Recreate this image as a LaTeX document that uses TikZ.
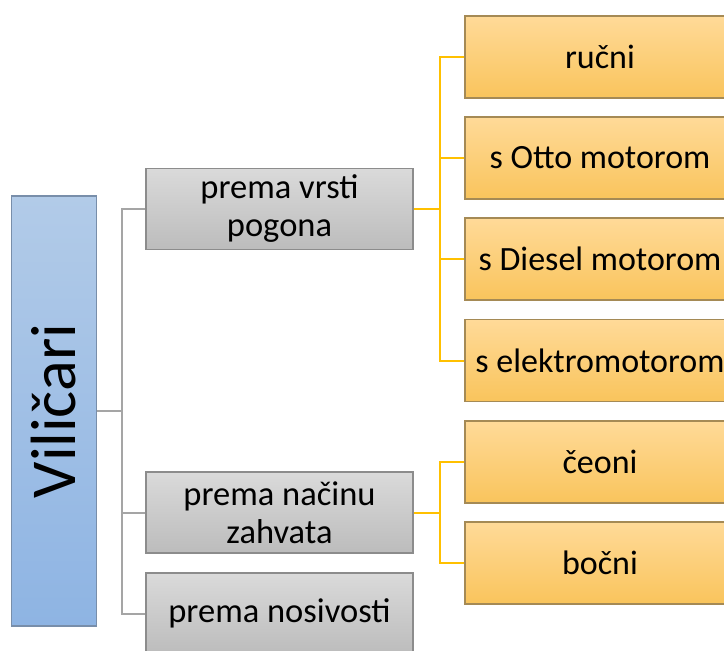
\documentclass[tikz,border=0pt]{standalone}
\usepackage{fontspec}
\setmainfont{Carlito}
\usepackage{tikz}
\usetikzlibrary{positioning}
\definecolor{roottop}{RGB}{178,203,232}
\definecolor{rootbot}{RGB}{142,180,227}
\definecolor{rootedge}{RGB}{120,142,170}
\definecolor{grouptop}{RGB}{218,218,218}
\definecolor{groupbot}{RGB}{188,188,188}
\definecolor{groupedge}{RGB}{140,140,140}
\definecolor{leaftop}{RGB}{255,218,152}
\definecolor{leafbot}{RGB}{249,196,92}
\definecolor{leafedge}{RGB}{165,138,85}
\definecolor{greyline}{RGB}{165,165,165}
\definecolor{goldline}{RGB}{255,192,0}
\tikzset{
	rootbox/.style  = {draw=rootedge, line width=1.5pt, top color=roottop, bottom color=rootbot, minimum width=85pt, minimum height=430pt, inner sep=0pt, font=\fontsize{64}{70}\selectfont},
	groupbox/.style = {draw=groupedge, line width=1.5pt, top color=grouptop, bottom color=groupbot, minimum width=267pt, minimum height=81pt, inner sep=0pt, align=center, font=\fontsize{34.5}{38}\selectfont},
	leafbox/.style  = {draw=leafedge, line width=1.5pt, top color=leaftop, bottom color=leafbot, minimum width=270pt, minimum height=82pt, inner sep=0pt, align=center, font=\fontsize{34}{38}\selectfont},
	greylink/.style = {draw=greyline, line width=2pt},
	goldlink/.style = {draw=goldline, line width=2pt},
}
\begin{document}
\begin{tikzpicture}[x=1pt, y=-1pt]
	\useasboundingbox (0,0) rectangle (724,651);
	\clip (0,0) rectangle (724,651);
	% root
	\node[rootbox] (root) at (54,411) {\rotatebox{90}{Viličari}};
	% second level
	\node[groupbox] (pogona) at (279.5,209) {prema vrsti\\pogona};
	\node[groupbox] (zahvat) at (279.5,512.5) {prema načinu\\zahvata};
	\node[groupbox] (nosiv)  at (279.5,613.5) {prema nosivosti};
	% third level
	\node[leafbox] (rucni)  at (600,57)    {ručni};
	\node[leafbox] (otto)   at (600,158)   {s Otto motorom};
	\node[leafbox] (diesel) at (600,259)   {s Diesel motorom};
	\node[leafbox] (elektr) at (600,360.5) {s elektromotorom};
	\node[leafbox] (ceoni)  at (600,462)   {čeoni};
	\node[leafbox] (bocni)  at (600,563)   {bočni};
	% connectors
	\coordinate (gtrunk) at ([xshift=25pt]root.east);
	\draw[greylink] (root.east) -- (gtrunk);
	\draw[greylink] (gtrunk) |- (pogona.west);
	\draw[greylink] (gtrunk) |- (zahvat.west);
	\draw[greylink] (gtrunk) |- (nosiv.west);
	\coordinate (ptrunk) at ([xshift=26pt]pogona.east);
	\draw[goldlink] (pogona.east) -- (ptrunk);
	\foreach \leaf in {rucni, otto, diesel, elektr}
		\draw[goldlink] (ptrunk) |- (\leaf.west);
	\coordinate (ztrunk) at ([xshift=26pt]zahvat.east);
	\draw[goldlink] (zahvat.east) -- (ztrunk);
	\foreach \leaf in {ceoni, bocni}
		\draw[goldlink] (ztrunk) |- (\leaf.west);
\end{tikzpicture}
\end{document}
